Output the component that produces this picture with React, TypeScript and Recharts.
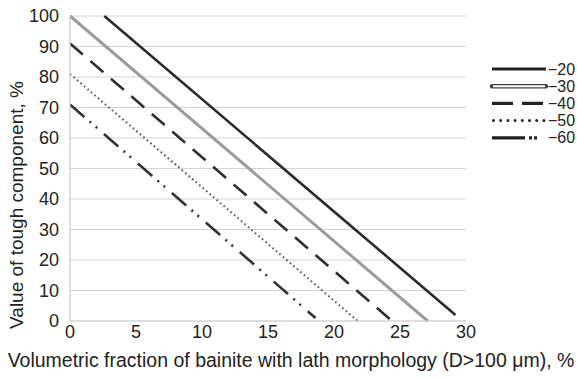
import React from "react";
import { LineChart, Line, XAxis, YAxis, CartesianGrid } from "recharts";

const seriesNames = ["−20", "−30", "−40", "−50", "−60"];
const xStart = [2.6, 0, 0, 0, 0];
const yStart = [100, 100, 91, 81, 71];
const xEnd = [29.2, 27.1, 24.4, 21.8, 18.6];
const yEnd = [2, 0, 0, 0, 1];
const xTicks = [0, 5, 10, 15, 20, 25, 30];
const yTicks = [0, 10, 20, 30, 40, 50, 60, 70, 80, 90, 100];

const styles = [
  { stroke: "#2a2a2a", width: 2.6, dash: undefined as string | undefined },
  { stroke: "#9b9b9b", width: 3, dash: undefined as string | undefined },
  { stroke: "#2f2f2f", width: 2.6, dash: "17 10" },
  { stroke: "#555555", width: 2, dash: "1.6 3" },
  { stroke: "#333333", width: 2.6, dash: "19 7 2 6 2 9" },
];

const series = seriesNames.map((name, i) => ({
  name,
  data: [
    { x: xStart[i], y: yStart[i] },
    { x: xEnd[i], y: yEnd[i] },
  ],
}));

const FONT = "'Liberation Sans', Arial, Helvetica, sans-serif";

const Legend = () => (
  <svg width={90} height={100} style={{ position: "absolute", left: 487, top: 58 }}>
    {series.map((s, i) => {
      const y = 11 + i * 17.2;
      return (
        <g key={s.name}>
          {i === 1 ? (
            <>
              <line x1={5} x2={59} y1={y} y2={y} stroke="#444" strokeWidth={4.5} strokeLinecap="round" />
              <line x1={6} x2={58} y1={y} y2={y} stroke="#fff" strokeWidth={2} />
            </>
          ) : i === 3 ? (
            <line
              x1={6.5}
              x2={58}
              y1={y}
              y2={y}
              stroke="#222"
              strokeWidth={3}
              strokeLinecap="round"
              strokeDasharray="0 7.2"
            />
          ) : (
            <line
              x1={5}
              x2={59}
              y1={y}
              y2={y}
              stroke="#222"
              strokeWidth={3.2}
              strokeDasharray={i === 2 ? "21 9" : i === 4 ? "33 4 3 2 3 20" : undefined}
            />
          )}
          <text x={61} y={y + 5.5} fontSize={16} fill="#222" fontFamily={FONT}>
            {s.name}
          </text>
        </g>
      );
    })}
  </svg>
);

export default function App() {
  return (
    <div style={{ position: "absolute", left: 0, top: 0, width: 577, height: 378, background: "#fff" }}>
      <LineChart
        width={577}
        height={378}
        margin={{ top: 16, right: 111, bottom: 0, left: 0 }}
        style={{ fontFamily: FONT }}
      >
        <CartesianGrid horizontal vertical={false} stroke="#d4d4d4" strokeWidth={1.2} />
        <XAxis
          type="number"
          dataKey="x"
          domain={[0, 30]}
          ticks={xTicks}
          height={57}
          axisLine={{ stroke: "#d4d4d4", strokeWidth: 1.2 }}
          tickLine={false}
          tickSize={0}
          tickMargin={4}
          tick={{ fill: "#222", fontSize: 18 }}
          allowDataOverflow
          label={{
            content: () => (
              <text x={291} y={367} textAnchor="middle" fontSize={19.5} fill="#222" fontFamily={FONT}>
                Volumetric fraction of bainite with lath morphology (D&gt;100 μm), %
              </text>
            ),
          }}
        />
        <YAxis
          type="number"
          domain={[0, 100]}
          ticks={yTicks}
          width={70}
          axisLine={{ stroke: "#c8c8c8", strokeWidth: 1.2 }}
          tickLine={false}
          tickSize={0}
          tickMargin={11}
          tick={{ fill: "#222", fontSize: 18 }}
          label={{
            content: () => (
              <text
                x={0}
                y={0}
                transform="translate(23 205) rotate(-90)"
                textAnchor="middle"
                fontSize={19}
                fill="#222"
                fontFamily={FONT}
              >
                Value of tough component, %
              </text>
            ),
          }}
        />
        {series.map((s, i) => (
          <Line
            key={s.name}
            data={s.data}
            dataKey="y"
            name={s.name}
            type="linear"
            stroke={styles[i].stroke}
            strokeWidth={styles[i].width}
            strokeDasharray={styles[i].dash}
            strokeLinecap="butt"
            dot={false}
            activeDot={false}
            isAnimationActive={false}
          />
        ))}
      </LineChart>
      <Legend />
    </div>
  );
}
